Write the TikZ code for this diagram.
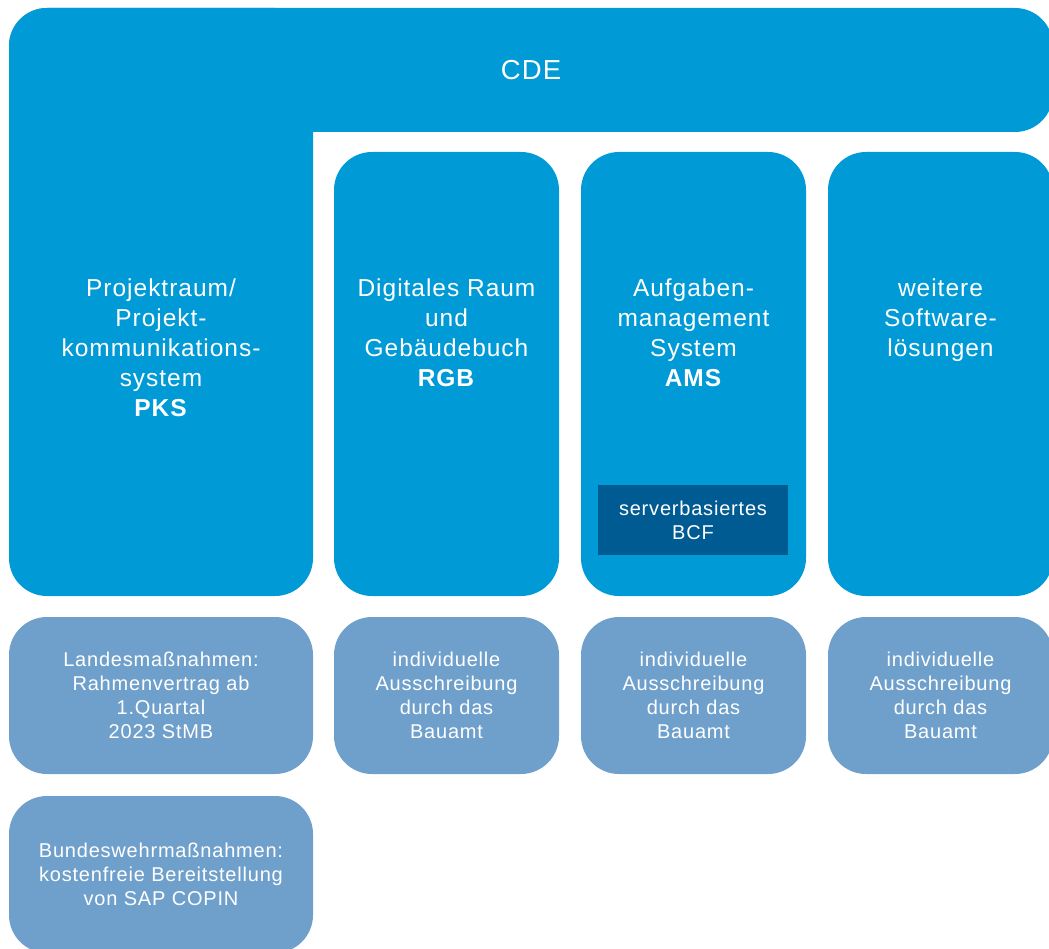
\documentclass[tikz,border=0pt]{standalone}
\usepackage{fontspec}
\setmainfont{Liberation Sans}[LetterSpace=4]
\usetikzlibrary{positioning}
\definecolor{cdeblue}{RGB}{0,154,214}
\definecolor{paleblue}{RGB}{111,160,203}
\definecolor{bcfblue}{RGB}{0,91,147}
\tikzset{
  cdebar/.style={fill=cdeblue, rounded corners=38pt, inner sep=0pt, text=white,
    font=\fontsize{27.5}{34}\selectfont},
  colbox/.style={fill=cdeblue, rounded corners=38pt, minimum width=225pt,
    minimum height=444pt, inner sep=0pt},
  coltext/.style={text=white, align=center, inner sep=0pt,
    font=\fontsize{24.5}{30}\selectfont},
  costbox/.style={fill=paleblue, rounded corners=38pt, minimum width=225pt,
    minimum height=157pt, inner sep=0pt, text=white, align=center,
    font=\fontsize{20}{24}\selectfont},
  bcfbox/.style={fill=bcfblue, minimum width=190pt, minimum height=70pt,
    inner sep=0pt, text=white, align=center, font=\fontsize{20}{24}\selectfont},
}
\begin{document}
\begin{tikzpicture}[x=1pt,y=-1pt]
    \useasboundingbox (0,0) rectangle (1049,949);
    \clip (0,0) rectangle (1049,949);
    % CDE bar and PKS column
    \node (cde) [cdebar, minimum width=1044pt, minimum height=124pt] at (531,70) {CDE};
    \node (pks) [colbox, minimum width=304pt, minimum height=588pt] at (161,302) {};
    \node (rgb) [colbox] at (446.5,374) {};
    \node (ams) [colbox] at (693.5,374) {};
    \node (sw) [colbox] at (940.5,374) {};
    % column texts
    \node (pkstext) [coltext, below=271pt of pks.north]
      {Projektraum/\\Projekt-\\kommunikations-\\system\\\textbf{PKS}};
    \node (rgbtext) [coltext, below=127pt of rgb.north]
      {Digitales Raum\\und\\Gebäudebuch\\\textbf{RGB}};
    \node (amstext) [coltext, below=127pt of ams.north]
      {Aufgaben-\\management\\System\\\textbf{AMS}};
    \node (swtext) [coltext, below=127pt of sw.north]
      {weitere\\Software-\\lösungen};
    \node (bcf) [bcfbox] at (693,520) {serverbasiertes\\BCF};
    % procurement row
    \node (land) [costbox, minimum width=304pt] at (161,695.5)
      {Landesmaßnahmen:\\Rahmenvertrag ab\\1.Quartal\\2023 StMB};
    \node (rgbcost) [costbox] at (446.5,695.5)
      {individuelle\\Ausschreibung\\durch das\\Bauamt};
    \node (amscost) [costbox] at (693.5,695.5)
      {individuelle\\Ausschreibung\\durch das\\Bauamt};
    \node (swcost) [costbox] at (940.5,695.5)
      {individuelle\\Ausschreibung\\durch das\\Bauamt};
    \node (bund) [costbox, minimum width=304pt] at (161,874.5)
      {Bundeswehrmaßnahmen:\\kostenfreie Bereitstellung\\von SAP COPIN};
\end{tikzpicture}
\end{document}
